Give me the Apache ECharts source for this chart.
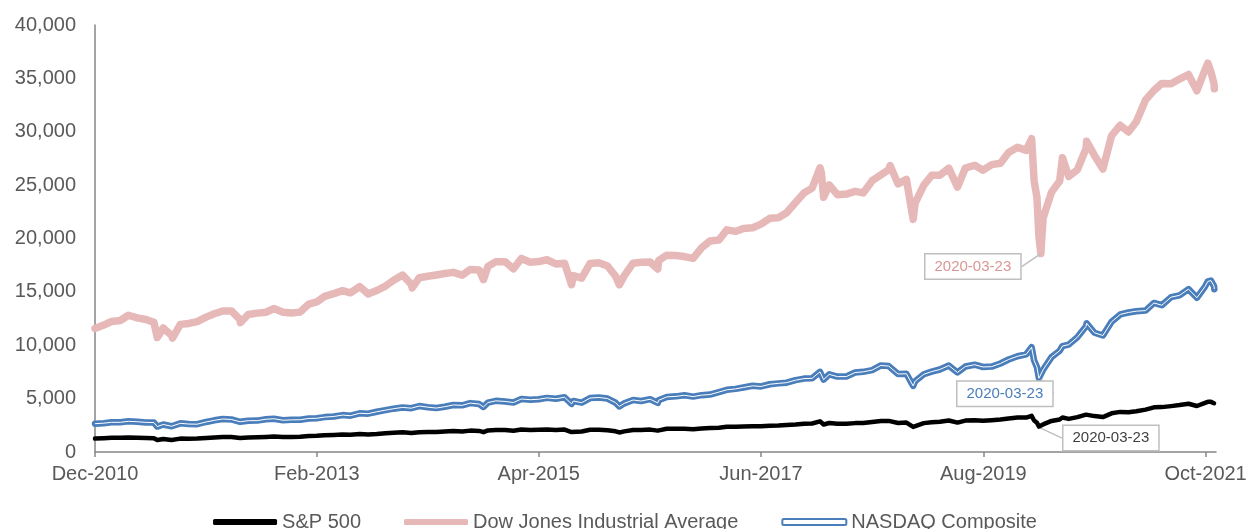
<!DOCTYPE html>
<html>
<head>
<meta charset="utf-8">
<title>S&amp;P 500, Dow Jones, NASDAQ</title>
<script src="https://cdn.jsdelivr.net/npm/echarts@6/dist/echarts.min.js"></script>
<style>
  html, body { margin: 0; padding: 0; background: #fff; }
  #chart { width: 1250px; height: 529px; }
</style>
</head>
<body>
<div id="chart"></div>
<script>
// sample dates (month ends plus a few turning points)
const dates = [
  '2010-12-31','2011-01-31','2011-02-28','2011-03-31','2011-04-29','2011-05-31','2011-06-30','2011-07-29','2011-08-10','2011-08-31',
  '2011-09-30','2011-10-03','2011-10-31','2011-11-30','2011-12-30','2012-01-31','2012-02-29','2012-03-30','2012-04-30','2012-05-31',
  '2012-06-01','2012-06-29','2012-07-31','2012-08-31','2012-09-28','2012-10-31','2012-11-30','2012-12-31','2013-01-31','2013-02-28',
  '2013-03-28','2013-04-30','2013-05-31','2013-06-28','2013-07-31','2013-08-30','2013-09-30','2013-10-31','2013-11-29','2013-12-31',
  '2014-01-31','2014-02-03','2014-02-28','2014-03-31','2014-04-30','2014-05-30','2014-06-30','2014-07-31','2014-08-29','2014-09-30',
  '2014-10-15','2014-10-31','2014-11-28','2014-12-31','2015-01-30','2015-02-27','2015-03-31','2015-04-30','2015-05-29','2015-06-30',
  '2015-07-31','2015-08-25','2015-08-31','2015-09-30','2015-10-30','2015-11-30','2015-12-31','2016-01-29','2016-02-11','2016-02-29',
  '2016-03-31','2016-04-29','2016-05-31','2016-06-27','2016-06-30','2016-07-29','2016-08-31','2016-09-30','2016-10-31','2016-11-30',
  '2016-12-30','2017-01-31','2017-02-28','2017-03-31','2017-04-28','2017-05-31','2017-06-30','2017-07-31','2017-08-31','2017-09-29',
  '2017-10-31','2017-11-30','2017-12-29','2018-01-26','2018-01-31','2018-02-08','2018-02-28','2018-03-29','2018-04-30','2018-05-31',
  '2018-06-29','2018-07-31','2018-08-31','2018-09-28','2018-10-03','2018-10-31','2018-11-30','2018-12-24','2018-12-31','2019-01-31',
  '2019-02-28','2019-03-29','2019-04-30','2019-05-31','2019-06-03','2019-06-28','2019-07-31','2019-08-30','2019-09-30','2019-10-31',
  '2019-11-29','2019-12-31','2020-01-31','2020-02-19','2020-02-28','2020-03-09','2020-03-16','2020-03-23','2020-03-31','2020-04-30',
  '2020-05-29','2020-06-08','2020-06-30','2020-07-31','2020-08-31','2020-09-02','2020-09-30','2020-10-30','2020-11-30','2020-12-31',
  '2021-01-29','2021-02-26','2021-03-31','2021-04-30','2021-05-28','2021-06-30','2021-07-30','2021-08-31','2021-09-30','2021-10-29',
  '2021-11-08','2021-11-19','2021-11-30','2021-12-01'
];

const dow = [
  11578,11892,12226,12320,12811,12570,12414,12143,10720,11614,
  10913,10655,11955,12046,12218,12633,12952,13212,13214,12393,
  12119,12880,13009,13091,13437,13096,13026,13104,13861,14054,
  14579,14840,15116,14910,15500,14810,15130,15546,16086,16577,
  15699,15373,16322,16458,16581,16717,16827,16563,17098,17043,
  16142,17391,17828,17823,17165,18133,17776,17841,18011,17620,
  17690,15666,16528,16285,17664,17720,17425,16466,15660,16517,
  17685,17774,17787,17140,17930,18432,18401,18308,18142,19124,
  19763,19864,20812,20663,20941,21009,21350,21891,21948,22405,
  23377,24272,24719,26617,26149,23860,25029,24103,24163,24416,
  24271,25415,25965,26458,26828,25116,25538,21792,23327,24999,
  25916,25929,26593,24815,24820,26600,26864,26403,26917,27046,
  28051,28538,28256,29348,25409,23851,20189,18592,21917,24346,
  25383,27572,25813,26428,28430,29100,27782,26502,29639,30606,
  29983,30932,32982,33875,34529,34503,34935,35361,33844,35820,
  36432,35602,34484,34022
];

const nasdaq = [
  2653,2700,2782,2781,2874,2835,2774,2756,2382,2580,
  2415,2336,2684,2620,2605,2814,2967,3092,3046,2827,
  2747,2935,2940,3067,3116,2977,3010,3020,3142,3160,
  3268,3329,3456,3403,3626,3590,3771,3920,4060,4177,
  4104,4032,4308,4199,4115,4243,4408,4370,4580,4493,
  4215,4631,4792,4736,4635,4964,4901,4941,5070,4987,
  5128,4506,4777,4620,5054,5109,5007,4614,4267,4558,
  4870,4775,4948,4594,4843,5162,5213,5312,5189,5324,
  5383,5615,5825,5912,6048,6199,6140,6348,6429,6496,
  6728,6874,6903,7506,7411,6777,7273,7063,7066,7442,
  7510,7672,8110,8046,8026,7306,7331,6193,6635,7282,
  7533,7729,8095,7453,7333,8006,8175,7963,7999,8292,
  8665,8973,9151,9817,8567,7950,6904,6861,7700,8890,
  9490,9925,10059,10745,11775,12056,11168,10912,12199,12888,
  13071,13192,13247,13962,13749,14504,14673,15259,14449,15498,
  15982,16057,15538,15254
];

const sp500 = [
  1258,1286,1327,1326,1364,1345,1321,1292,1120,1219,
  1131,1099,1253,1247,1258,1312,1366,1408,1398,1310,
  1278,1362,1379,1407,1441,1412,1416,1426,1498,1515,
  1569,1598,1631,1606,1686,1633,1682,1757,1806,1848,
  1783,1742,1859,1872,1884,1924,1960,1931,2003,1972,
  1862,2018,2068,2059,1995,2105,2068,2086,2107,2063,
  2104,1868,1972,1920,2079,2080,2044,1940,1829,1932,
  2060,2065,2097,2001,2099,2174,2171,2168,2126,2199,
  2239,2279,2364,2363,2384,2412,2423,2470,2472,2519,
  2575,2648,2674,2873,2824,2581,2714,2641,2648,2705,
  2718,2816,2902,2914,2926,2712,2760,2351,2507,2704,
  2784,2834,2946,2752,2744,2942,2980,2926,2977,3038,
  3141,3231,3226,3386,2954,2747,2386,2237,2585,2912,
  3044,3232,3100,3271,3500,3580,3363,3270,3622,3756,
  3714,3811,3973,4181,4204,4298,4395,4523,4308,4605,
  4701,4698,4567,4513
];

const tickDates = ['2010-12-31', '2013-02-28', '2015-04-30', '2017-06-30', '2019-08-31', '2021-10-31'];
const monthNames = ['Jan','Feb','Mar','Apr','May','Jun','Jul','Aug','Sep','Oct','Nov','Dec'];
const calloutDate = '2020-03-23';

const FONT = '"Liberation Sans", Arial, sans-serif';

function toTime(s) {
  const p = s.split('-');
  return Date.UTC(+p[0], +p[1] - 1, +p[2]);
}

// pairs [time, value]; the callout date gets a label
function buildData(values) {
  const out = [];
  for (let i = 0; i < dates.length; i++) {
    const item = { value: [toTime(dates[i]), values[i]] };
    if (dates[i] === calloutDate) {
      item.symbol = 'circle';
      item.symbolSize = 1;
      item.label = { show: true };
    }
    out.push(item);
  }
  return out;
}

function callout(color, dx, dy) {
  return {
    label: {
      show: false,
      position: 'inside',
      formatter: function (p) { return dates[p.dataIndex]; },
      color: color,
      fontSize: 15,
      fontFamily: FONT,
      backgroundColor: '#fff',
      borderColor: '#bfbfbf',
      borderWidth: 1.5,
      padding: [5, 9, 4, 9]
    },
    labelLayout: { dx: dx, dy: dy },
    labelLine: { show: true, lineStyle: { color: '#bfbfbf', width: 1.5 } }
  };
}

const tickTimes = tickDates.map(toTime);

const myChart = echarts.init(document.getElementById('chart'));
const option = {
  animation: false,
  grid: { left: 95, right: 34, top: 25, bottom: 77, outerBoundsMode: 'none' },
  legend: {
    top: 507,
    left: 'center',
    itemWidth: 64,
    itemHeight: 6,
    itemGap: 43,
    textStyle: { fontSize: 20, color: '#595959', fontFamily: FONT },
    data: [
      { name: 'S&P 500', icon: 'roundRect', itemStyle: { color: '#000' } },
      { name: 'Dow Jones Industrial Average', icon: 'roundRect', itemStyle: { color: '#e6b9b8' } },
      { name: 'NASDAQ Composite', icon: 'roundRect', itemStyle: { color: '#fff', borderColor: '#4a7ebb', borderWidth: 2 } }
    ]
  },
  xAxis: {
    // dates as UTC timestamps on a plain value axis
    type: 'value',
    min: toTime('2010-12-31'),
    max: toTime('2021-12-07'),
    axisLine: { lineStyle: { color: '#868686', width: 1.5 } },
    axisTick: { show: true, length: 5, customValues: tickTimes, lineStyle: { color: '#868686', width: 1.5 } },
    axisLabel: {
      customValues: tickTimes,
      formatter: function (v) {
        const d = new Date(v);
        return monthNames[d.getUTCMonth()] + '-' + d.getUTCFullYear();
      },
      fontSize: 20,
      color: '#595959',
      fontFamily: FONT,
      margin: 12
    },
    splitLine: { show: false }
  },
  yAxis: {
    type: 'value',
    min: 0,
    max: 40000,
    interval: 5000,
    axisLine: { show: true, lineStyle: { color: '#868686', width: 1.5 } },
    axisTick: { show: false },
    splitLine: { show: false },
    axisLabel: {
      formatter: function (v) { return v.toLocaleString('en-US'); },
      fontSize: 20,
      color: '#595959',
      fontFamily: FONT,
      margin: 19
    }
  },
  series: [
    Object.assign({
      name: 'S&P 500',
      type: 'line',
      symbol: 'none',
      data: buildData(sp500),
      itemStyle: { color: '#000' },
      lineStyle: { color: '#000', width: 4.5, cap: 'round', join: 'round' }
    }, callout('#404040', 70, 10)),
    Object.assign({
      name: 'Dow Jones Industrial Average',
      type: 'line',
      symbol: 'none',
      data: buildData(dow),
      itemStyle: { color: '#e6b9b8' },
      lineStyle: { color: '#e6b9b8', width: 7.5, cap: 'round', join: 'round' }
    }, callout('#d99694', -68, 13)),
    Object.assign({
      name: 'NASDAQ Composite',
      type: 'line',
      symbol: 'none',
      data: buildData(nasdaq),
      itemStyle: { color: '#4a7ebb' },
      lineStyle: { color: '#4a7ebb', width: 6.5, cap: 'round', join: 'round' }
    }, callout('#4a7ebb', -36, 15)),
    {
      // white core of the NASDAQ double line
      name: 'NASDAQ inner',
      type: 'line',
      symbol: 'none',
      silent: true,
      data: nasdaq.map(function (v, i) { return [toTime(dates[i]), v]; }),
      lineStyle: { color: '#fff', width: 1, join: 'round' },
      z: 3
    }
  ]
};
myChart.setOption(option);
window.addEventListener('resize', function () { myChart.resize(); });
</script>
</body>
</html>
